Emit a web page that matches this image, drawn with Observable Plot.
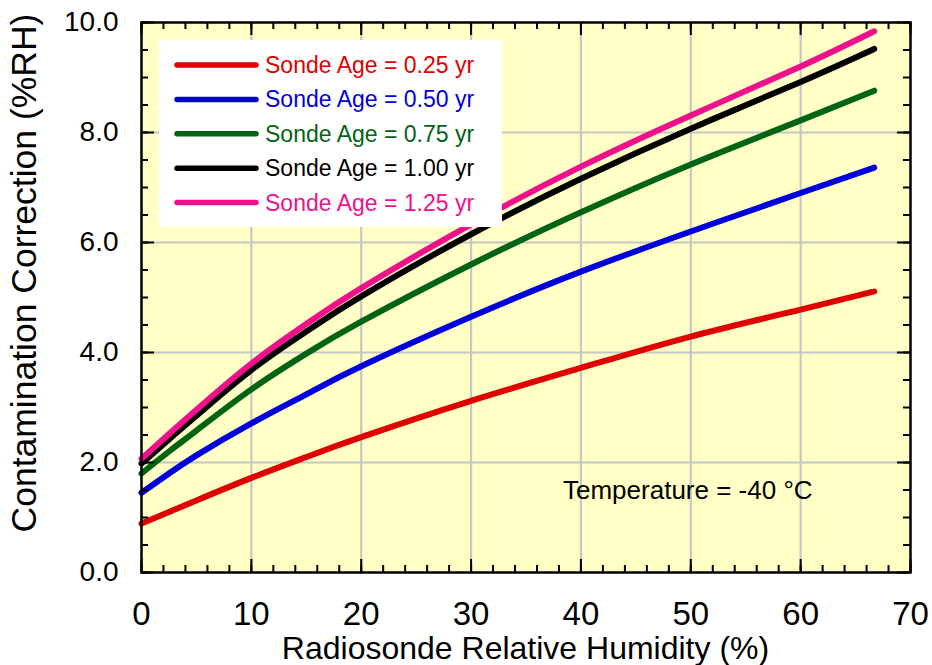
<!DOCTYPE html>
<html>
<head>
<meta charset="utf-8">
<script src="https://cdn.jsdelivr.net/npm/d3@7"></script>
<script src="https://cdn.jsdelivr.net/npm/@observablehq/plot@0.6"></script>
<style>
  html, body { margin: 0; padding: 0; background: #ffffff; }
  #wrap { position: relative; width: 932px; height: 665px; overflow: hidden;
          font-family: "Liberation Sans", Arial, Helvetica, sans-serif; }
  #wrap svg.overlay { position: absolute; left: 0; top: 0; pointer-events: none; }
</style>
</head>
<body>
<div id="wrap"></div>
<script>
// ---- data ----
const humidity = [0, 2.5, 5, 10, 15, 20, 30, 40, 50, 60, 66.7];
const age025 = [0.89, 1.10, 1.31, 1.72, 2.10, 2.46, 3.12, 3.72, 4.29, 4.78, 5.11];
const age050 = [1.45, 1.80, 2.13, 2.71, 3.24, 3.75, 4.65, 5.47, 6.20, 6.90, 7.36];
const age075 = [1.80, 2.20, 2.58, 3.33, 3.98, 4.56, 5.60, 6.55, 7.42, 8.22, 8.76];
const age100 = [1.98, 2.42, 2.85, 3.68, 4.38, 5.02, 6.15, 7.16, 8.07, 8.92, 9.52];
const age125 = [2.07, 2.52, 2.96, 3.80, 4.52, 5.17, 6.33, 7.38, 8.31, 9.20, 9.84];

const seriesNames = ["Sonde Age = 0.25 yr", "Sonde Age = 0.50 yr", "Sonde Age = 0.75 yr",
                     "Sonde Age = 1.00 yr", "Sonde Age = 1.25 yr"];
const seriesValues = [age025, age050, age075, age100, age125];
const seriesColors = ["#e00000", "#0000dd", "#006414", "#000000", "#f0108c"];

const xMajor = [10, 20, 30, 40, 50, 60];
const xLabels = [0, 10, 20, 30, 40, 50, 60, 70];
const xMinor = d3.range(0, 71, 2);
const yMajor = [2, 4, 6, 8];
const yLabels = [0, 2, 4, 6, 8, 10];
const yMinor = d3.range(0, 10.01, 0.5);

const xTitle = "Radiosonde Relative Humidity (%)";
const yTitle = "Contamination Correction (%RH)";
const note = "Temperature = -40 °C";

// ---- table for Plot ----
const rows = [];
seriesNames.forEach((name, i) => {
  humidity.forEach((h, j) => rows.push({series: name, rh: h, corr: seriesValues[i][j]}));
});

const W = 932, H = 665;
const mL = 141, mR = 22, mT = 22, mB = 93;
const fw = W - mL - mR, fh = H - mT - mB;   // frame size in px

// inward tick marks as short rules (insets in px)
const tk = {stroke: "black", strokeWidth: 2};
const ticksX = (vals, len) => [
  Plot.ruleX(vals, {x: d => d, insetTop: fh - len, ...tk}),
  Plot.ruleX(vals, {x: d => d, insetBottom: fh - len, ...tk})
];
const ticksY = (vals, len) => [
  Plot.ruleY(vals, {y: d => d, insetRight: fw - len, ...tk}),
  Plot.ruleY(vals, {y: d => d, insetLeft: fw - len, ...tk})
];

const chart = Plot.plot({
  width: W, height: H,
  marginLeft: mL, marginRight: mR, marginTop: mT, marginBottom: mB,
  style: {background: "transparent", fontFamily: "'Liberation Sans', Arial, Helvetica, sans-serif", color: "black"},
  x: {domain: [0, 70]},
  y: {domain: [0, 10]},
  color: {domain: seriesNames, range: seriesColors},
  marks: [
    Plot.frame({fill: "#ffffc6", stroke: null}),
    Plot.gridX(xMajor, {stroke: "#c6c6c6", strokeOpacity: 1, strokeWidth: 2.2}),
    Plot.gridY(yMajor, {stroke: "#c6c6c6", strokeOpacity: 1, strokeWidth: 2.2}),
    Plot.line(rows, {x: "rh", y: "corr", z: "series", stroke: "series",
                     strokeWidth: 6, strokeLinecap: "round", strokeLinejoin: "round",
                     curve: "natural"}),
    // tick labels
    Plot.axisX(xLabels, {anchor: "bottom", tickSize: 0, tickPadding: 29, fontSize: 33, label: null,
                         tickFormat: d => String(d), fill: "black"}),
    Plot.axisY(yLabels, {anchor: "left", tickSize: 0, tickPadding: 23, fontSize: 28, label: null,
                         tickFormat: d => d.toFixed(1), fill: "black"}),
    // inward ticks
    ...ticksX(xMinor, 7),
    ...ticksX(xLabels, 13),
    ...ticksY(yMinor, 7),
    ...ticksY(yLabels, 13),
    Plot.frame({stroke: "black", strokeWidth: 2.5})
  ]
});

const wrap = document.getElementById("wrap");
wrap.appendChild(chart);

// ---- overlay: titles, legend, note ----
const ov = d3.select(wrap).append("svg")
  .attr("class", "overlay")
  .attr("width", W).attr("height", H)
  .style("font-family", "'Liberation Sans', Arial, Helvetica, sans-serif");

ov.append("text")
  .attr("x", (mL + (W - mR)) / 2).attr("y", 659)
  .attr("text-anchor", "middle").attr("font-size", 32).attr("fill", "black")
  .text(xTitle);

ov.append("text")
  .attr("transform", "translate(36,273) rotate(-90)")
  .attr("text-anchor", "middle").attr("font-size", 35.5).attr("fill", "black")
  .text(yTitle);

ov.append("text")
  .attr("x", 563).attr("y", 499).attr("text-anchor", "start")
  .attr("font-size", 26).attr("fill", "black")
  .text(note);

const lg = ov.append("g");
lg.append("rect").attr("x", 159).attr("y", 40).attr("width", 343).attr("height", 187).attr("fill", "white");
seriesNames.forEach((name, i) => {
  const cy = 65 + i * 34.4;
  lg.append("line").attr("x1", 177).attr("x2", 256).attr("y1", cy).attr("y2", cy)
    .attr("stroke", seriesColors[i]).attr("stroke-width", 5.5).attr("stroke-linecap", "round");
  lg.append("text").attr("x", 265).attr("y", cy + 8).attr("text-anchor", "start")
    .attr("font-size", 23).attr("fill", seriesColors[i]).text(name);
});
</script>
</body>
</html>
